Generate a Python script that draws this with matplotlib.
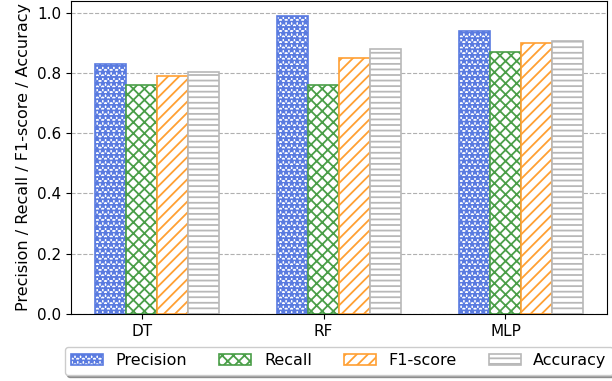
import numpy as np
import matplotlib
matplotlib.use("Agg")
import matplotlib.pyplot as plt

models = ["DT", "RF", "MLP"]
metrics = ["Precision", "Recall", "F1-score", "Accuracy"]
precision = [0.83, 0.99, 0.94]
recall = [0.76, 0.76, 0.87]
f1_score = [0.79, 0.85, 0.90]
accuracy = [0.805, 0.88, 0.905]

series = [precision, recall, f1_score, accuracy]
colors = ["#5a7be0", "#4a9e48", "#ffa033", "#b8b8b8"]
hatches = ["***", "xxx", "///", "---"]

plt.rcParams["font.family"] = "DejaVu Sans"
plt.rcParams["hatch.linewidth"] = 1.3

fig = plt.figure(figsize=(6.12, 3.81), dpi=100)
ax = fig.add_axes([0.116, 0.176, 0.876, 0.822])

x = np.arange(len(models))
width = 0.17
# bars start one width left of each tick, so the tick sits under the second bar
for i, (vals, name) in enumerate(zip(series, metrics)):
    ax.bar(x + (i - 1) * width, vals, width, label=name, facecolor="white",
           edgecolor=colors[i], hatch=hatches[i], linewidth=1.2)

ax.set_xticks(x)
ax.set_xticklabels(models, fontsize=11)
ax.set_ylim(0, 1.04)
ax.set_yticks(np.arange(0, 1.01, 0.2))
ax.set_yticklabels([f"{v:.1f}" for v in np.arange(0, 1.01, 0.2)], fontsize=11)
ax.set_ylabel("Precision / Recall / F1-score / Accuracy", fontsize=11.5)
ax.yaxis.grid(True, linestyle="--", color="#b0b0b0", linewidth=0.8)
ax.set_axisbelow(True)

# legend below the axes, starting near the left edge of the figure
ax.legend(loc="upper left", bbox_to_anchor=(-0.027, -0.08), ncol=4,
          fontsize=11.5, shadow=True, fancybox=True, borderaxespad=0.5)

fig.savefig("out.png", dpi=100)
